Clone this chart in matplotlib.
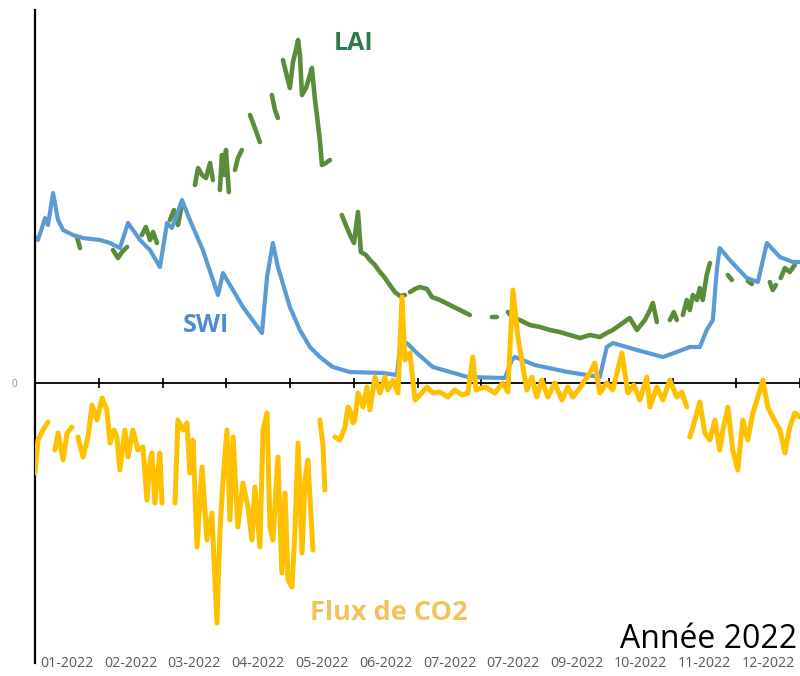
import numpy as np
import matplotlib.pyplot as plt

plt.rcParams['font.family'] = ['Open Sans', 'DejaVu Sans']

nan = np.nan

# jour de l'année / valeur relative (axe commun, zéro partagé)
swi_day = [0.0, 1.4, 3.3, 4.8, 6.2, 8.6, 11.0, 13.4, 18.1, 22.9, 31.0, 35.8, 40.5, 44.4,
           50.1, 54.8, 59.6, 63.0, 65.3, 67.7, 70.1, 73.9, 80.1, 87.3, 89.7, 99.2, 108.3,
           110.7, 113.5, 115.9, 121.6, 126.4, 131.2, 135.9, 142.1, 150.3, 166.0, 172.7,
           174.1, 177.4, 182.2, 189.8, 206.5, 224.2, 227.5, 229.0, 238.5, 254.2, 269.5,
           272.8, 275.7, 287.2, 299.6, 306.2, 312.4, 317.2, 320.5, 323.4, 325.3, 326.7,
           331.5, 339.6, 344.9, 349.2, 355.4, 361.6, 364.9]
swi_val = [1.46, 1.43, 1.55, 1.65, 1.58, 1.90, 1.63, 1.53, 1.48, 1.45, 1.43, 1.40, 1.35, 1.60,
           1.43, 1.33, 1.16, 1.60, 1.55, 1.68, 1.83, 1.63, 1.33, 0.88, 1.10, 0.76, 0.50,
           1.06, 1.40, 1.16, 0.76, 0.53, 0.36, 0.26, 0.16, 0.11, 0.10, 0.08,
           0.36, 0.40, 0.30, 0.16, 0.06, 0.05, 0.23, 0.26, 0.18, 0.11, 0.06,
           0.36, 0.40, 0.33, 0.26, 0.31, 0.36, 0.36, 0.53, 0.63, 1.13, 1.35,
           1.23, 1.05, 1.01, 1.40, 1.26, 1.21, 1.21]

# LAI : série lacunaire, nan = pas de donnée
lai_day = [20.0, 21.5, nan,
           37.2, 39.6, 41.5, 43.9, nan,
           51.0, 52.9, 54.9, 56.3, 58.2, nan,
           64.4, 66.3, 68.2, 70.1, nan,
           76.3, 77.8, 79.7, 81.6, 83.5, 84.9, nan,
           88.2, 89.2, 90.2, 91.1, 92.5, nan,
           95.4, 96.8, 98.7, nan,
           102.6, 104.9, 107.3, nan,
           113.0, 114.5, 115.9, nan,
           118.3, 119.7, 121.6, 123.1, 124.5, 125.5, 126.4, 127.4, 129.3, 131.2, 132.1,
           133.6, 134.5, 135.9, 136.9, 138.8, 140.7, nan,
           146.4, 148.3, 150.3, 152.2, 154.1, 155.5, 157.9, 159.8, 162.2, 164.6, 167.0,
           169.3, 171.7, 174.1, 176.5, nan,
           178.9, 181.3, 183.6, 187.0, 189.4, 193.2, 198.0, 202.7, 207.5, nan,
           218.0, 220.4, nan,
           225.6, 228.0, 231.3, 236.1, 240.9, 245.7, 250.4, 255.2, 260.0, 264.7, 269.5,
           272.8, 275.7, 279.0, 283.8, 287.2, 291.0, 293.4, 294.8, 296.7, nan,
           302.9, 304.8, 306.2, nan,
           309.1, 311.0, 312.4, 313.9, 315.8, 317.2, 318.6, 320.5, 322.0, nan,
           330.6, 332.5, nan,
           340.1, 342.0, nan,
           350.6, 352.0, 353.5, nan,
           355.8, 357.8, 360.1, 362.5]
lai_val = [1.46, 1.35, nan,
           1.33, 1.25, 1.31, 1.36, nan,
           1.48, 1.56, 1.43, 1.51, 1.40, nan,
           1.63, 1.73, 1.58, 1.78, nan,
           1.98, 2.15, 2.08, 2.05, 2.20, 2.03, nan,
           1.93, 2.28, 2.08, 2.33, 1.91, nan,
           2.13, 2.25, 2.33, nan,
           2.68, 2.55, 2.41, nan,
           2.88, 2.73, 2.65, nan,
           3.23, 3.11, 2.95, 3.21, 3.33, 3.43, 3.28, 2.88, 2.95, 3.08, 3.15,
           2.83, 2.68, 2.43, 2.18, 2.20, 2.23, nan,
           1.68, 1.58, 1.48, 1.40, 1.71, 1.31, 1.28, 1.23, 1.18, 1.11, 1.05,
           0.98, 0.91, 0.87, 0.88, nan,
           0.91, 0.94, 0.96, 0.94, 0.86, 0.83, 0.78, 0.73, 0.68, nan,
           0.66, 0.66, nan,
           0.71, 0.65, 0.63, 0.58, 0.56, 0.53, 0.51, 0.48, 0.45, 0.48, 0.46,
           0.50, 0.53, 0.58, 0.65, 0.53, 0.63, 0.73, 0.80, 0.61, nan,
           0.63, 0.71, 0.63, nan,
           0.68, 0.83, 0.73, 0.88, 0.83, 0.95, 0.83, 1.08, 1.20, nan,
           1.08, 1.03, nan,
           1.02, 0.99, nan,
           1.01, 0.93, 0.98, nan,
           1.05, 1.15, 1.11, 1.18]

flux_day = [0.0, 1.4, 3.8, 6.2, nan,
            9.5, 11.0, 13.4, 15.3, 17.6, nan,
            20.5, 22.9, 25.3, 27.2, 29.6, 32.0, 34.3, 35.8, 37.7, 39.1, 40.5, 42.9, 44.4,
            46.7, 49.1, 51.5, 53.4, 54.9, 55.8, 57.2, 58.7, 59.6, 60.6, nan,
            66.8, 68.2, 70.6, 72.5, 73.9, 75.4, 77.3, 79.7, 82.0, 84.4, 86.8, 88.2, 89.7,
            91.6, 93.0, 94.5, 96.8, 99.2, 101.6, 103.5, 104.9, 107.3, 108.8, 110.7, 112.1,
            113.5, 115.9, 117.8, 119.3, 120.7, 122.6, 124.0, 125.5, 127.4, 128.8, 130.2,
            132.6, nan,
            135.9, 137.4, 138.3, nan,
            143.1, 145.5, 147.9, 149.3, 150.3, 151.7, 152.6, 154.1, 156.5, 158.4, 159.8,
            162.2, 164.6, 167.0, 168.4, 170.8, 173.2, 175.1, 176.5, 178.9, 181.3, 183.6,
            187.0, 189.8, 193.2, 197.0, 200.3, 203.7, 206.5, 208.0, 208.9, 210.4, 214.7,
            219.4, 223.2, 225.6, 228.0, 230.4, 232.8, 234.7, 237.1, 239.4, 241.8, 244.7,
            248.0, 251.4, 254.2, 256.6, 260.0, 262.4, 264.7, 267.1, 269.5, 272.8, 275.7,
            280.0, 282.9, 285.7, 288.6, 291.9, 293.4, 296.7, 299.6, 302.9, 306.2, 308.6,
            311.0, nan,
            312.4, 313.9, 317.2, 319.6, 322.0, 324.4, 326.7, 328.2, 330.6, 332.9, 335.3,
            337.7, 340.1, 342.5, 344.9, 347.3, 349.6, 352.0, 355.4, 357.8, 360.1, 362.5,
            364.9]
flux_val = [-0.90, -0.57, -0.47, -0.39, nan,
            -0.67, -0.50, -0.77, -0.50, -0.44, nan,
            -0.54, -0.74, -0.54, -0.22, -0.37, -0.15, -0.27, -0.60, -0.47, -0.54, -0.87,
            -0.47, -0.74, -0.47, -0.67, -0.64, -1.17, -0.77, -0.70, -1.20, -0.87, -0.70,
            -1.20, nan,
            -1.20, -0.37, -0.47, -0.40, -0.90, -0.57, -1.64, -0.84, -1.57, -1.30, -2.40,
            -1.50, -0.97, -0.47, -1.37, -0.54, -1.44, -1.00, -1.24, -1.57, -1.04, -1.64,
            -0.47, -0.30, -1.44, -1.57, -0.74, -1.90, -1.10, -1.97, -2.04, -1.50, -0.60,
            -1.70, -0.97, -0.77, -1.67, nan,
            -0.37, -0.62, -1.07, nan,
            -0.54, -0.57, -0.44, -0.24, -0.27, -0.40, -0.37, -0.10, -0.24, -0.04, -0.27,
            0.06, -0.10, 0.06, -0.07, 0.03, -0.10, 0.86, 0.23, 0.30, -0.17, -0.12,
            -0.04, -0.10, -0.09, -0.14, -0.07, -0.12, -0.10, 0.13, 0.26, -0.07, -0.04,
            -0.10, 0.00, -0.09, 0.93, 0.46, 0.16, -0.07, 0.06, -0.14, 0.03, -0.14,
            0.00, -0.17, -0.04, -0.14, -0.05, 0.03, 0.10, 0.20, -0.10, 0.00, -0.07,
            0.30, -0.10, -0.02, -0.17, 0.06, -0.24, -0.04, -0.17, 0.03, -0.14, -0.09,
            -0.24, nan,
            -0.54, -0.44, -0.19, -0.50, -0.57, -0.37, -0.67, -0.47, -0.24, -0.67, -0.87,
            -0.37, -0.57, -0.30, -0.14, 0.03, -0.24, -0.34, -0.47, -0.70, -0.44, -0.30,
            -0.34]

month_labels = ["01-2022", "02-2022", "03-2022", "04-2022", "05-2022", "06-2022",
                "07-2022", "07-2022", "09-2022", "10-2022", "11-2022", "12-2022"]

month_len = 365 / 12
month_edges = np.arange(1, 13) * month_len
month_centers = (np.arange(12) + 0.5) * month_len

fig = plt.figure(figsize=(8, 6.76), dpi=100)
ax = fig.add_axes([0.04375, 0.0192, 0.95625, 0.966])

ax.plot(lai_day, lai_val, color='#5b8c3a', lw=3.3, solid_joinstyle='round',
        solid_capstyle='round', zorder=2)
ax.plot(swi_day, swi_val, color='#5b9bd5', lw=3.0, solid_joinstyle='round', zorder=2.2)
ax.plot(flux_day, flux_val, color='#ffc000', lw=3.6, solid_joinstyle='round',
        solid_capstyle='round', zorder=3)

ax.set_xlim(0, 365)
ax.set_ylim(-2.80, 3.73)

ax.spines['top'].set_visible(False)
ax.spines['right'].set_visible(False)
ax.spines['bottom'].set_position(('data', 0))
ax.spines['bottom'].set_linewidth(1.3)
ax.spines['left'].set_linewidth(1.6)

ax.set_xticks(month_edges)
ax.set_xticklabels([])
ax.tick_params(axis='x', direction='inout', length=7, width=1.2, color='black')
ax.set_yticks([0])
ax.set_yticklabels(['0'])
ax.tick_params(axis='y', length=0, pad=13, labelsize=7, labelcolor='#8c8c8c')

# étiquettes des mois en bas du graphique
sec = ax.secondary_xaxis(0.011)
sec.set_xticks(month_centers, labels=month_labels)
sec.tick_params(length=0, pad=0, labelsize=10.2, labelcolor='#595959')
sec.spines['bottom'].set_visible(False)

ax.text(152, 3.40, 'LAI', color='#2e7b4f', fontsize=18, fontweight='bold',
        ha='center', va='center')
ax.text(81.5, 0.58, 'SWI', color='#4d8cd0', fontsize=18, fontweight='bold',
        ha='center', va='center')
ax.text(169, -2.30, 'Flux de CO2', color='#f3c35a', fontsize=19.5, fontweight='bold',
        ha='center', va='center')

fig.text(797 / 800, 28 / 676, 'Année 2022', fontsize=23, color='black',
         ha='right', va='baseline')

fig.savefig('out.png', dpi=100)
